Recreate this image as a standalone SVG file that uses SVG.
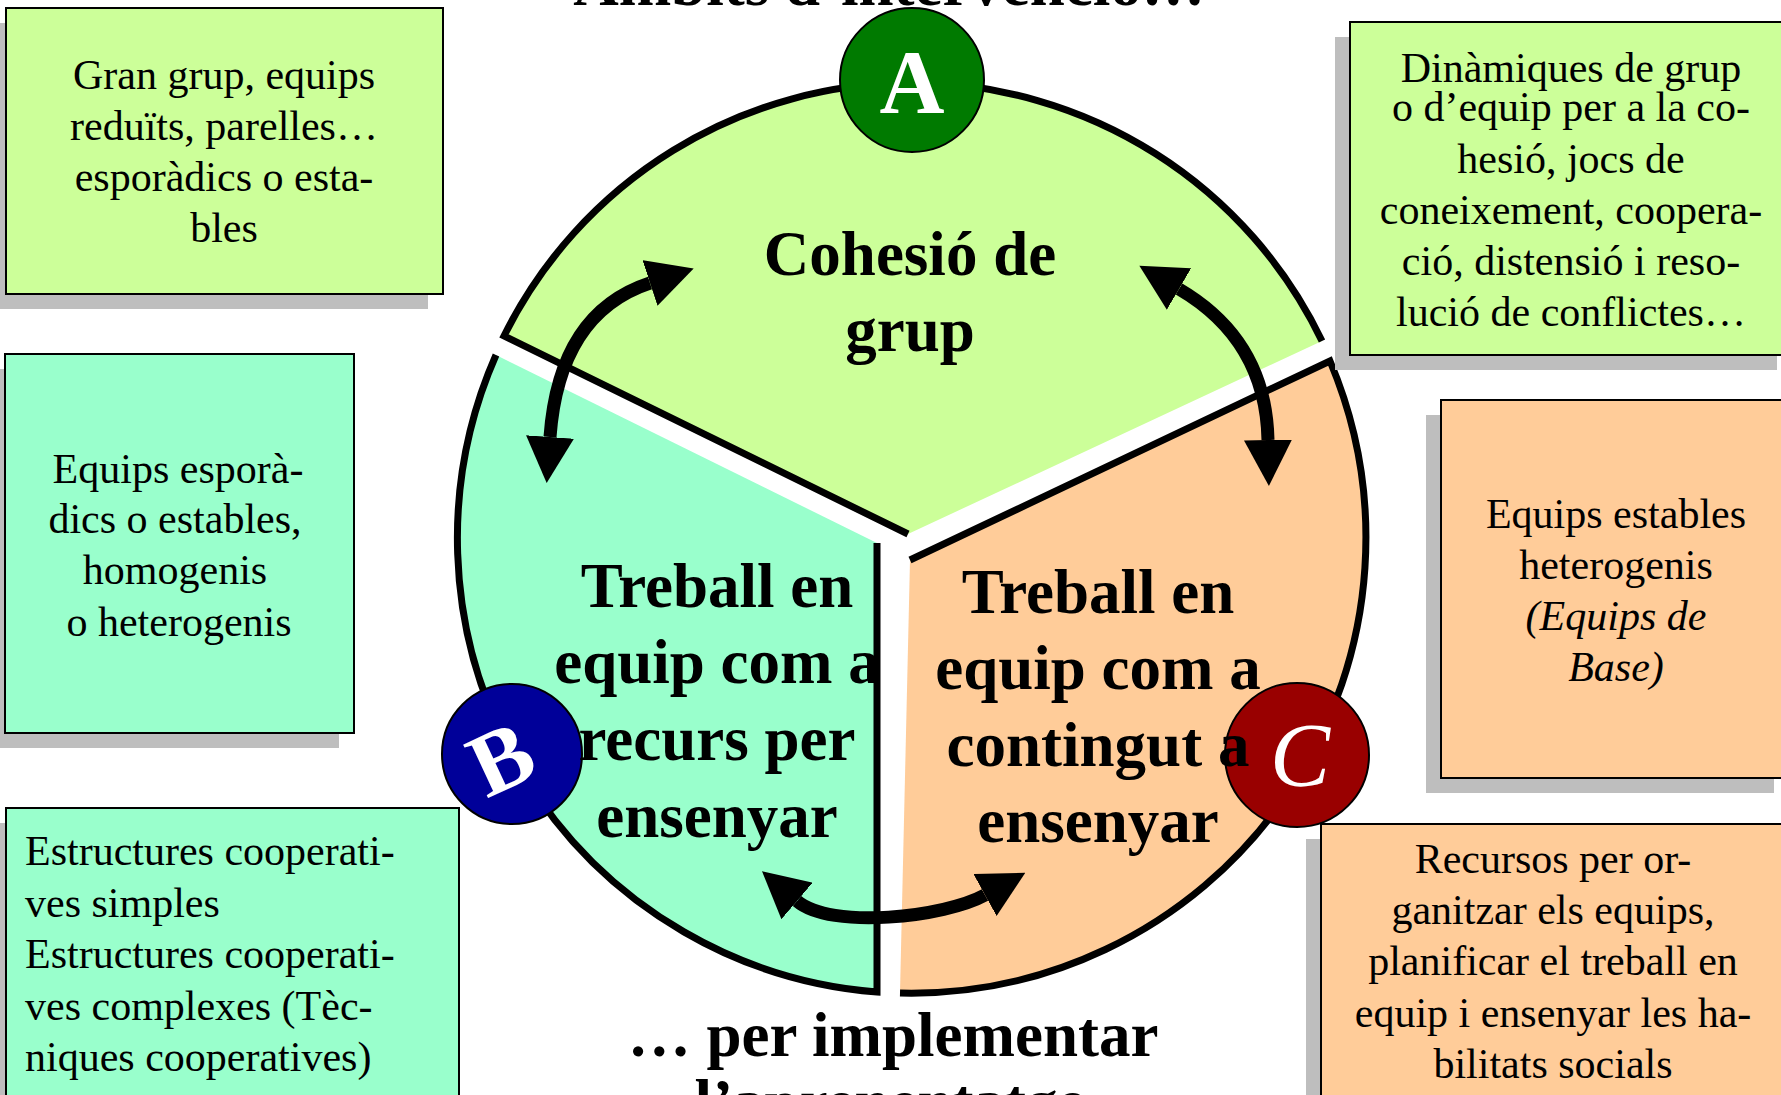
<svg xmlns="http://www.w3.org/2000/svg" width="1781" height="1095" viewBox="0 0 1781 1095">
<style>
text{font-family:"Liberation Serif","Times New Roman",serif;fill:#000}
.box{stroke:#000;stroke-width:2}
.sh{fill:#BEBEBE}
.g{fill:#CCFF99}.m{fill:#99FFCC}.o{fill:#FFCC99}
.bt{font-size:42px;text-anchor:middle}
.bl{font-size:42px}
.big{font-size:63px;font-weight:bold;text-anchor:middle}
.edge{fill:none;stroke:#000;stroke-width:7;stroke-linejoin:miter}
.arr{fill:none;stroke:#000;stroke-width:13;marker-start:url(#head);marker-end:url(#head)}
.badge{stroke:#000;stroke-width:2}
.lt{font-size:90px;font-weight:bold;fill:#fff;text-anchor:middle}
</style>
<defs>
<marker id="head" markerUnits="userSpaceOnUse" markerWidth="46" markerHeight="48" viewBox="0 0 46 48" refX="0" refY="24" orient="auto-start-reverse">
<path d="M0,0 L46,24 L0,48 Z" fill="#000"/>
</marker>
</defs>
<rect width="1781" height="1095" fill="#fff"/>

<text class="big" x="889" y="5">Àmbits d’intervenció…</text>

<g id="sector-a">
<path class="g" d="M908,534 L504,336 A455,455 0 0 1 1322,341 Z"/>
<path class="edge" d="M1322,341 A455,455 0 0 0 504,336 L908,534"/>
</g>
<g id="sector-b">
<path class="m" d="M877,543 L496,355 A455,455 0 0 0 877,992 Z"/>
<path class="edge" d="M496,355 A455,455 0 0 0 877,992 L877,543"/>
</g>
<g id="sector-c">
<path class="o" d="M910,560 L1330,361 A455,455 0 0 1 900,993 Z"/>
<path class="edge" d="M910,560 L1330,361 A455,455 0 0 1 900,993"/>
</g>

<g id="connectors">
<path class="arr" d="M550,437 Q559,313 650,283"/>
<path class="arr" d="M1179,289 Q1266,340 1268,440"/>
<path class="arr" d="M797,901 C831,930 945,917 985,895"/>
</g>

<g id="badge-a">
<circle class="badge" cx="912" cy="80" r="72" fill="#007A00"/>
<text class="lt" x="912" y="113">A</text>
</g>
<g id="badge-b">
<circle class="badge" cx="512" cy="754" r="70" fill="#000099"/>
<text class="lt" x="0" y="0" transform="translate(514,786) rotate(-25)">B</text>
</g>
<g id="badge-c">
<circle class="badge" cx="1297" cy="755" r="72" fill="#990000"/>
<text class="lt" x="1300" y="786" style="font-style:italic;font-weight:normal">C</text>
</g>

<g id="label-a">
<text class="big" x="910" y="275">Cohesió de</text>
<text class="big" x="910" y="351">grup</text>
</g>
<g id="label-b">
<text class="big" x="717" y="607">Treball en</text>
<text class="big" x="717" y="683">equip com a</text>
<text class="big" x="717" y="760">recurs per</text>
<text class="big" x="717" y="837">ensenyar</text>
</g>
<g id="label-c">
<text class="big" x="1098" y="613">Treball en</text>
<text class="big" x="1098" y="689">equip com a</text>
<text class="big" x="1098" y="766">contingut a</text>
<text class="big" x="1098" y="842">ensenyar</text>
</g>

<g id="box-a-left">
<rect class="sh" x="-9" y="23" width="437" height="286"/>
<rect class="box g" x="6" y="8" width="437" height="286"/>
<text class="bt" x="224" y="89">Gran grup, equips</text>
<text class="bt" x="224" y="140">reduïts, parelles…</text>
<text class="bt" x="224" y="191">esporàdics o esta-</text>
<text class="bt" x="224" y="242">bles</text>
</g>
<g id="box-a-right">
<rect class="sh" x="1335" y="37" width="442" height="333"/>
<rect class="box g" x="1350" y="22" width="442" height="333"/>
<text class="bt" x="1571" y="82">Dinàmiques de grup</text>
<text class="bt" x="1571" y="121">o d’equip per a la co-</text>
<text class="bt" x="1571" y="173">hesió, jocs de</text>
<text class="bt" x="1571" y="224">coneixement, coopera-</text>
<text class="bt" x="1571" y="275">ció, distensió i reso-</text>
<text class="bt" x="1571" y="326">lució de conflictes…</text>
</g>
<g id="box-b-left">
<rect class="sh" x="-10" y="369" width="349" height="379"/>
<rect class="box m" x="5" y="354" width="349" height="379"/>
<text class="bt" x="178" y="483">Equips esporà-</text>
<text class="bt" x="175" y="533">dics o estables,</text>
<text class="bt" x="175" y="584">homogenis</text>
<text class="bt" x="179" y="636">o heterogenis</text>
</g>
<g id="box-b-bottom">
<rect class="sh" x="-9" y="823" width="453" height="320"/>
<rect class="box m" x="6" y="808" width="453" height="320"/>
<text class="bl" x="25" y="865">Estructures cooperati-</text>
<text class="bl" x="25" y="917">ves simples</text>
<text class="bl" x="25" y="968">Estructures cooperati-</text>
<text class="bl" x="25" y="1020">ves complexes (Tèc-</text>
<text class="bl" x="25" y="1071">niques cooperatives)</text>
</g>
<g id="box-c-right">
<rect class="sh" x="1426" y="415" width="348" height="378"/>
<rect class="box o" x="1441" y="400" width="348" height="378"/>
<text class="bt" x="1616" y="528">Equips estables</text>
<text class="bt" x="1616" y="579">heterogenis</text>
<text class="bt" x="1616" y="630" font-style="italic">(Equips de</text>
<text class="bt" x="1616" y="681" font-style="italic">Base)</text>
</g>
<g id="box-c-bottom">
<rect class="sh" x="1306" y="839" width="464" height="300"/>
<rect class="box o" x="1321" y="824" width="464" height="300"/>
<text class="bt" x="1553" y="873">Recursos per or-</text>
<text class="bt" x="1553" y="924">ganitzar els equips,</text>
<text class="bt" x="1553" y="975">planificar el treball en</text>
<text class="bt" x="1553" y="1027">equip i ensenyar les ha-</text>
<text class="bt" x="1553" y="1078">bilitats socials</text>
</g>

<g id="footer">
<text class="big" x="893" y="1056">… per implementar</text>
<text class="big" x="890" y="1123">l’aprenentatge</text>
</g>
</svg>
